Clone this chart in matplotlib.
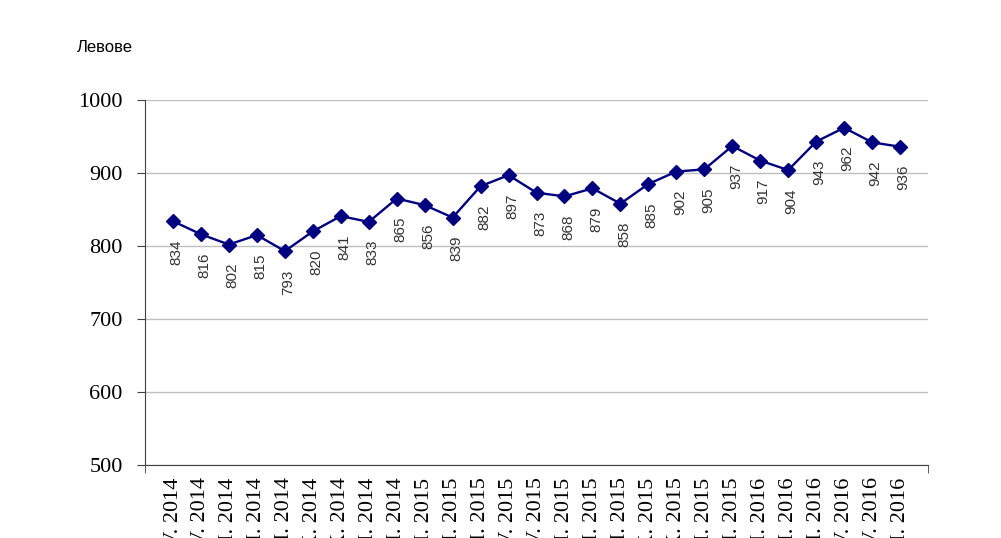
import matplotlib.pyplot as plt

# Average wage, levs (IV.2014 - VI.2016)
months = ["IV", "V", "VI", "VII", "VIII", "IX", "X", "XI", "XII",
          "I", "II", "III", "IV", "V", "VI", "VII", "VIII", "IX", "X", "XI", "XII",
          "I", "II", "III", "IV", "V", "VI"]
years = [2014] * 9 + [2015] * 12 + [2016] * 6
values = [834, 816, 802, 815, 793, 820, 841, 833, 865, 856, 839, 882, 897, 873,
          868, 879, 858, 885, 902, 905, 937, 917, 904, 943, 962, 942, 936]

labels = [f"{m}. {y}" for m, y in zip(months, years)]
x = list(range(len(values)))

fig = plt.figure(figsize=(10.01, 5.38), dpi=100)
ax = fig.add_axes([0.1449, 0.1357, 0.7822, 0.6784])

# grid lines
ax.set_axisbelow(True)
ax.yaxis.grid(True, color="#bfbfbf", linewidth=1)

ax.plot(x, values, color="#000080", linewidth=1.7, marker="D", markersize=7.5,
        zorder=3)

# data labels below points
for xi, v in zip(x, values):
    ax.annotate(str(v), (xi, v), xytext=(2.5, -13), textcoords="offset points",
                rotation=90, ha="center", va="top", fontsize=11,
                family="Liberation Sans", color="#333333")

ax.set_ylim(500, 1000)
ax.set_yticks([500, 600, 700, 800, 900, 1000])
ax.set_xlim(-1, len(values))
ax.set_xticks(x)
ax.set_xticklabels(labels, rotation=90, va="top", ha="center",
                   family="Liberation Serif", fontsize=16)
ax.set_xticks(list(range(-1, len(values) + 1)), minor=True)
ax.tick_params(axis="x", which="major", length=0, pad=9)
ax.tick_params(axis="x", which="minor", length=6, direction="out", color="#404040")
for lab in ax.get_yticklabels():
    lab.set_family("Liberation Serif")
    lab.set_fontsize(16)
ax.tick_params(axis="y", length=6, direction="out", pad=10, color="#404040")

for s in ["top", "right"]:
    ax.spines[s].set_visible(False)
ax.spines["left"].set_color("#404040")
ax.spines["bottom"].set_color("#404040")

fig.text(0.077, 0.911, "Левове", family="Liberation Sans", fontsize=12,
         va="center", ha="left")

fig.savefig("out.png", dpi=100)
